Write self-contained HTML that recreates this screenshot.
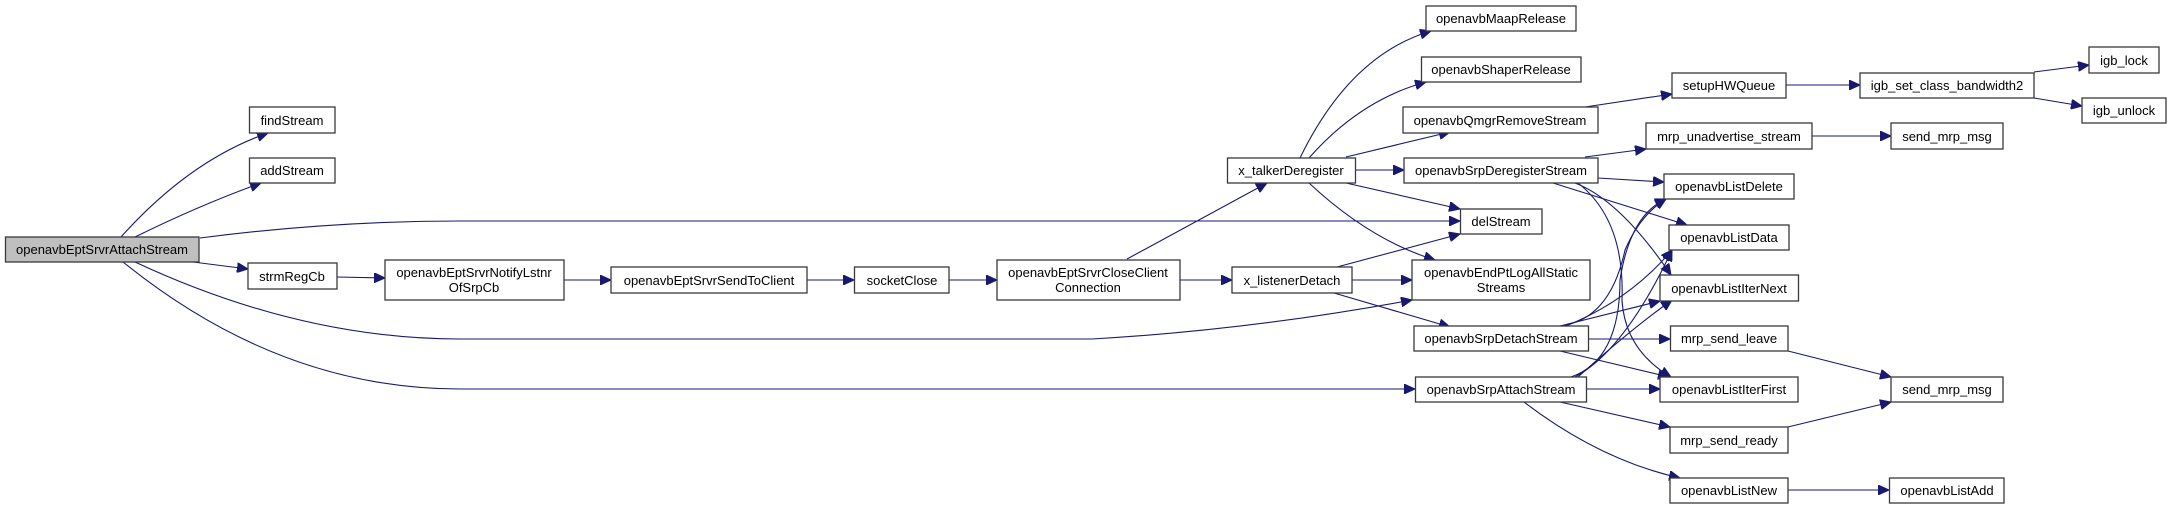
<!DOCTYPE html>
<html><head><meta charset="utf-8"><style>
html,body{margin:0;padding:0;background:#fff;}
svg{display:block;}
text{font-family:"Liberation Sans",sans-serif;font-size:13px;fill:#000;text-anchor:middle;}
rect{fill:#fff;stroke:#3a3a3a;stroke-width:1.3;}
path{fill:none;stroke:#191970;stroke-width:1.1;}
</style></head><body>
<svg width="2172" height="509" viewBox="0 0 2172 509" xmlns="http://www.w3.org/2000/svg">
<defs><marker id="a" markerUnits="userSpaceOnUse" markerWidth="12" markerHeight="10" refX="11" refY="5" orient="auto"><path d="M0,0 L11,5 L0,10 Z" style="fill:#191970;stroke:#191970;stroke-width:1"/></marker></defs>
<g marker-end="url(#a)">
<path d="M121,237 Q190,160 268,133"/>
<path d="M135,237 Q200,205 261,183"/>
<path d="M200,238 Q330,221 460,221 L1460,221"/>
<path d="M193,262 L248,269"/>
<path d="M135,262 Q300,339 460,339 L1092,339 Q1250,330 1412,300"/>
<path d="M123,262 Q280,389 460,389 L1415,389"/>
<path d="M337,277 L385,278"/>
<path d="M564,280 L611,280"/>
<path d="M807,280 L854,280"/>
<path d="M949,280 L997,280"/>
<path d="M1127,259 L1267,183"/>
<path d="M1180,280 L1232,280"/>
<path d="M1300,158 Q1350,55 1431,31"/>
<path d="M1309,158 Q1360,100 1426,82"/>
<path d="M1346,157 L1450,132"/>
<path d="M1355,170 L1404,170"/>
<path d="M1346,183 L1460,209"/>
<path d="M1309,183 Q1370,240 1435,260"/>
<path d="M1337,267 L1460,234"/>
<path d="M1352,280 L1412,280"/>
<path d="M1334,293 L1450,327"/>
<path d="M1585,107 L1672,94"/>
<path d="M1786,85 L1860,85"/>
<path d="M2034,72 L2089,65"/>
<path d="M2034,98 L2082,106"/>
<path d="M1585,157 L1646,149"/>
<path d="M1812,136 L1891,136"/>
<path d="M1598,178 L1664,182"/>
<path d="M1553,183 L1687,225"/>
<path d="M1575,183 Q1620,200 1671,275"/>
<path d="M1578,183 Q1625,220 1622,300 Q1625,350 1671,377"/>
<path d="M1560,326 Q1610,320 1625,250 Q1640,215 1666,199"/>
<path d="M1566,326 Q1630,300 1672,250"/>
<path d="M1560,326 L1660,301"/>
<path d="M1588,339 L1670,339"/>
<path d="M1560,351 L1669,377"/>
<path d="M1571,377 Q1620,360 1620,280 Q1630,215 1666,199"/>
<path d="M1575,377 Q1625,350 1672,250"/>
<path d="M1578,377 Q1630,330 1672,300"/>
<path d="M1587,389 L1660,389"/>
<path d="M1560,402 L1670,427"/>
<path d="M1524,402 Q1600,460 1680,478"/>
<path d="M1788,351 L1891,377"/>
<path d="M1788,427 L1891,402"/>
<path d="M1788,490 L1889,490"/>
</g>
<rect x="5.5" y="237" width="193.5" height="25" style="fill:#bfbfbf"/><text x="102" y="254">openavbEptSrvrAttachStream</text>
<rect x="249.5" y="107" width="85.5" height="26"/><text x="292" y="125">findStream</text>
<rect x="249.5" y="158" width="85.5" height="25"/><text x="292" y="175">addStream</text>
<rect x="248" y="263" width="89" height="26"/><text x="292" y="281">strmRegCb</text>
<rect x="385" y="260" width="179" height="40"/><text x="474" y="277">openavbEptSrvrNotifyLstnr</text><text x="474" y="292">OfSrpCb</text>
<rect x="611" y="267" width="196" height="26"/><text x="709" y="285">openavbEptSrvrSendToClient</text>
<rect x="854.5" y="267" width="94.5" height="26"/><text x="902" y="285">socketClose</text>
<rect x="997" y="260" width="183" height="40"/><text x="1088" y="277">openavbEptSrvrCloseClient</text><text x="1088" y="292">Connection</text>
<rect x="1227.5" y="158" width="128" height="25"/><text x="1291" y="175">x_talkerDeregister</text>
<rect x="1232" y="267" width="120" height="26"/><text x="1292" y="285">x_listenerDetach</text>
<rect x="1426" y="6" width="150" height="25"/><text x="1501" y="23">openavbMaapRelease</text>
<rect x="1421.5" y="57" width="159.5" height="25"/><text x="1501" y="74">openavbShaperRelease</text>
<rect x="1403" y="107" width="195" height="26"/><text x="1500" y="125">openavbQmgrRemoveStream</text>
<rect x="1404" y="158" width="194" height="25"/><text x="1501" y="175">openavbSrpDeregisterStream</text>
<rect x="1460.5" y="209" width="81.5" height="25"/><text x="1501" y="226">delStream</text>
<rect x="1412" y="260" width="178" height="40"/><text x="1501" y="277">openavbEndPtLogAllStatic</text><text x="1501" y="292">Streams</text>
<rect x="1414" y="326" width="174.5" height="25"/><text x="1501" y="343">openavbSrpDetachStream</text>
<rect x="1415.5" y="377" width="171" height="25"/><text x="1501" y="394">openavbSrpAttachStream</text>
<rect x="1672" y="73" width="114" height="25"/><text x="1729" y="90">setupHWQueue</text>
<rect x="1860" y="73" width="174" height="25"/><text x="1947" y="90">igb_set_class_bandwidth2</text>
<rect x="2089" y="47" width="70" height="26"/><text x="2124" y="65">igb_lock</text>
<rect x="2082" y="98" width="84" height="25"/><text x="2124" y="115">igb_unlock</text>
<rect x="1646" y="123" width="166" height="26"/><text x="1729" y="141">mrp_unadvertise_stream</text>
<rect x="1891" y="123" width="112" height="26"/><text x="1947" y="141">send_mrp_msg</text>
<rect x="1664" y="174" width="130" height="25"/><text x="1729" y="191">openavbListDelete</text>
<rect x="1669" y="225" width="120" height="25"/><text x="1729" y="242">openavbListData</text>
<rect x="1660" y="275" width="138.5" height="26"/><text x="1729" y="293">openavbListIterNext</text>
<rect x="1670.5" y="326" width="117.5" height="25"/><text x="1729" y="343">mrp_send_leave</text>
<rect x="1660" y="377" width="138" height="25"/><text x="1729" y="394">openavbListIterFirst</text>
<rect x="1891" y="377" width="112" height="25"/><text x="1947" y="394">send_mrp_msg</text>
<rect x="1670" y="427" width="118" height="26"/><text x="1729" y="445">mrp_send_ready</text>
<rect x="1670" y="478" width="118" height="25"/><text x="1729" y="495">openavbListNew</text>
<rect x="1889.5" y="478" width="114.5" height="25"/><text x="1947" y="495">openavbListAdd</text>
</svg>
</body></html>
